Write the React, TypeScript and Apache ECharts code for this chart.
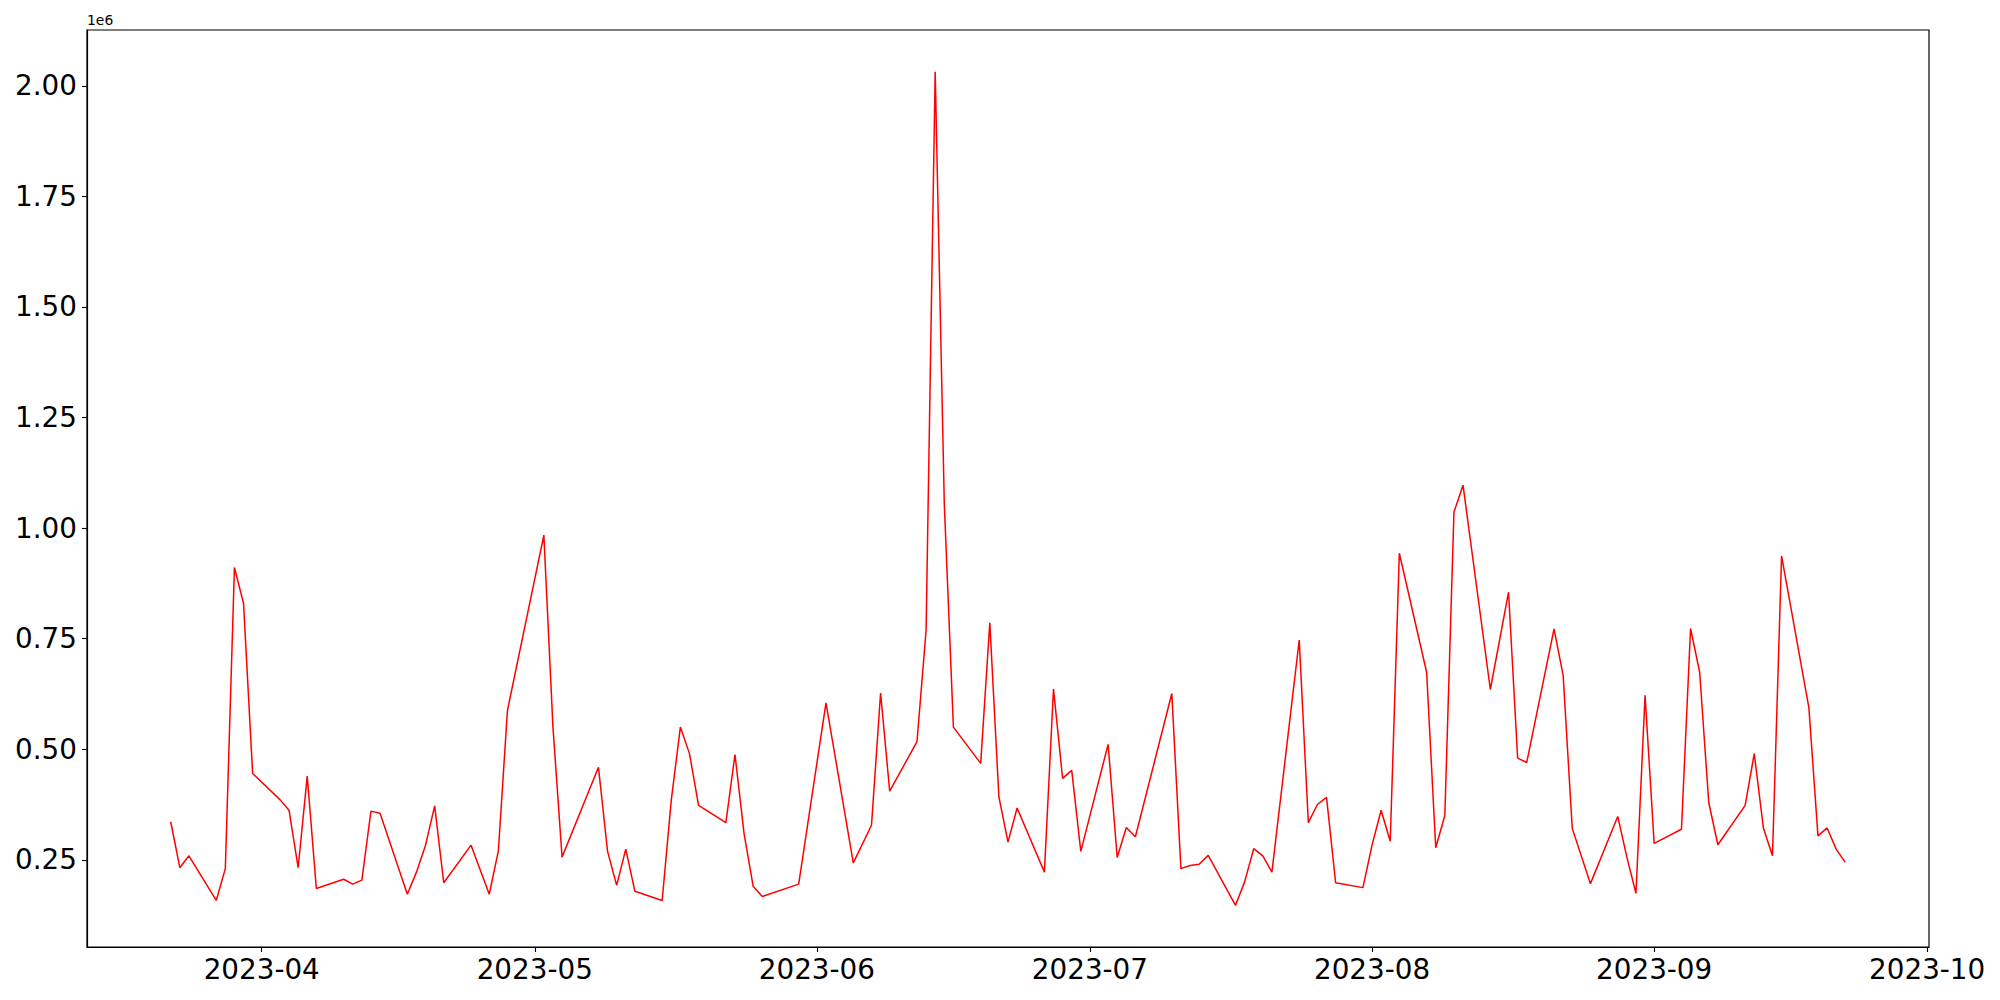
import React, { useEffect, useRef } from "react";
import * as echarts from "echarts";

const dates: string[] = [
  "2023-03-22", "2023-03-23", "2023-03-24", "2023-03-27", "2023-03-28", "2023-03-29", "2023-03-30", "2023-03-31",
  "2023-04-03", "2023-04-04", "2023-04-05", "2023-04-06", "2023-04-07", "2023-04-10", "2023-04-11", "2023-04-12",
  "2023-04-13", "2023-04-14", "2023-04-17", "2023-04-18", "2023-04-19", "2023-04-20", "2023-04-21", "2023-04-24",
  "2023-04-26", "2023-04-27", "2023-04-28", "2023-05-02", "2023-05-03", "2023-05-04", "2023-05-08", "2023-05-09",
  "2023-05-10", "2023-05-11", "2023-05-12", "2023-05-15", "2023-05-16", "2023-05-17", "2023-05-18", "2023-05-19",
  "2023-05-22", "2023-05-23", "2023-05-24", "2023-05-25", "2023-05-26", "2023-05-30", "2023-06-02", "2023-06-05",
  "2023-06-07", "2023-06-08", "2023-06-09", "2023-06-12", "2023-06-13", "2023-06-14", "2023-06-15", "2023-06-16",
  "2023-06-19", "2023-06-20", "2023-06-21", "2023-06-22", "2023-06-23", "2023-06-26", "2023-06-27", "2023-06-28",
  "2023-06-29", "2023-06-30", "2023-07-03", "2023-07-04", "2023-07-05", "2023-07-06", "2023-07-10", "2023-07-11",
  "2023-07-12", "2023-07-13", "2023-07-14", "2023-07-17", "2023-07-18", "2023-07-19", "2023-07-20", "2023-07-21",
  "2023-07-24", "2023-07-25", "2023-07-26", "2023-07-27", "2023-07-28", "2023-07-31", "2023-08-01", "2023-08-02",
  "2023-08-03", "2023-08-04", "2023-08-07", "2023-08-08", "2023-08-09", "2023-08-10", "2023-08-11", "2023-08-14",
  "2023-08-16", "2023-08-17", "2023-08-18", "2023-08-21", "2023-08-22", "2023-08-23", "2023-08-25", "2023-08-28",
  "2023-08-29", "2023-08-30", "2023-08-31", "2023-09-01", "2023-09-04", "2023-09-05", "2023-09-06", "2023-09-07",
  "2023-09-08", "2023-09-11", "2023-09-12", "2023-09-13", "2023-09-14", "2023-09-15", "2023-09-18", "2023-09-19",
  "2023-09-20", "2023-09-21", "2023-09-22",
];

// values in units of 1e6
const values: number[] = [
  0.336, 0.232, 0.259, 0.158, 0.230, 0.911, 0.830, 0.445,
  0.386, 0.362, 0.232, 0.439, 0.185, 0.206, 0.195, 0.204,
  0.360, 0.355, 0.172, 0.222, 0.283, 0.372, 0.198, 0.283,
  0.172, 0.270, 0.588, 0.984, 0.550, 0.256, 0.459, 0.269,
  0.192, 0.274, 0.179, 0.158, 0.385, 0.550, 0.490, 0.373,
  0.334, 0.488, 0.309, 0.190, 0.167, 0.195, 0.605, 0.243,
  0.328, 0.627, 0.405, 0.517, 0.769, 2.032, 1.055, 0.550,
  0.468, 0.786, 0.392, 0.290, 0.367, 0.222, 0.636, 0.434,
  0.452, 0.269, 0.511, 0.255, 0.323, 0.302, 0.626, 0.230,
  0.237, 0.240, 0.260, 0.147, 0.200, 0.275, 0.259, 0.222,
  0.747, 0.334, 0.375, 0.391, 0.198, 0.187, 0.283, 0.362,
  0.292, 0.943, 0.674, 0.277, 0.350, 1.036, 1.097, 0.635,
  0.855, 0.480, 0.470, 0.772, 0.667, 0.321, 0.196, 0.348,
  0.256, 0.174, 0.622, 0.287, 0.319, 0.773, 0.674, 0.379,
  0.284, 0.373, 0.490, 0.322, 0.259, 0.937, 0.594, 0.304,
  0.322, 0.274, 0.244,
];

const yTicks: number[] = [0.25, 0.5, 0.75, 1.0, 1.25, 1.5, 1.75, 2.0];
const xTickMonths: string[] = ["2023-04-01", "2023-05-01", "2023-06-01", "2023-07-01", "2023-08-01", "2023-09-01", "2023-10-01"];
const offsetLabel = "1e6";

function parseLocal(s: string): number {
  const [y, m, d] = s.split("-").map(Number);
  return new Date(y, m - 1, d).getTime();
}

export default function App() {
  const ref = useRef<HTMLDivElement>(null);
  useEffect(() => {
    if (!ref.current) return;
    const chart = echarts.init(ref.current, undefined, { renderer: "svg" });
    const ts = dates.map(parseLocal);
    const tMin = Math.min(...ts);
    const tMax = Math.max(...ts);
    const tPad = (tMax - tMin) * 0.05;
    const vMin = Math.min(...values);
    const vMax = Math.max(...values);
    const vPad = (vMax - vMin) * 0.05;
    const xTicks = xTickMonths.map(parseLocal);
    const font = "DejaVu Sans";
    chart.setOption({
      animation: false,
      backgroundColor: "#ffffff",
      grid: {
        left: 87,
        right: 71,
        top: 30,
        bottom: 53,
        show: true,
        borderColor: "#000000",
        borderWidth: 1.2,
        containLabel: false,
      },
      xAxis: {
        type: "value",
        min: tMin - tPad,
        max: tMax + tPad,
        scale: true,
        splitLine: { show: false },
        axisLine: { show: true, onZero: false, lineStyle: { color: "#000000", width: 1.2 } },
        axisTick: { show: true, length: 5, lineStyle: { color: "#000000", width: 1.1 }, customValues: xTicks },
        axisLabel: {
          customValues: xTicks,
          color: "#000000",
          fontFamily: font,
          fontSize: 27.8,
          margin: 8,
          hideOverlap: false,
          formatter: (val: number) => {
            const d = new Date(val);
            return `${d.getFullYear()}-${String(d.getMonth() + 1).padStart(2, "0")}`;
          },
        },
      },
      yAxis: {
        type: "value",
        min: vMin - vPad,
        max: vMax + vPad,
        scale: true,
        splitLine: { show: false },
        axisLine: { show: true, onZero: false, lineStyle: { color: "#000000", width: 1.2 } },
        axisTick: { show: true, length: 5, lineStyle: { color: "#000000", width: 1.1 }, customValues: yTicks },
        axisLabel: {
          customValues: yTicks,
          color: "#000000",
          fontFamily: font,
          fontSize: 27.8,
          margin: 10,
          formatter: (val: number) => val.toFixed(2),
        },
      },
      graphic: [
        {
          type: "text",
          left: 87,
          top: 13,
          style: { text: offsetLabel, fontFamily: font, fontSize: 13.9, fill: "#000000" },
        },
      ],
      series: [
        {
          type: "line",
          data: ts.map((t, i) => [t, values[i]]),
          showSymbol: false,
          symbol: "none",
          lineStyle: { color: "#ff0000", width: 1.5 },
          itemStyle: { color: "#ff0000" },
        },
      ],
    });
    return () => chart.dispose();
  }, []);
  return (
    <div
      ref={ref}
      style={{ position: "fixed", left: 0, top: 0, width: 2000, height: 1000, background: "#ffffff" }}
    />
  );
}
